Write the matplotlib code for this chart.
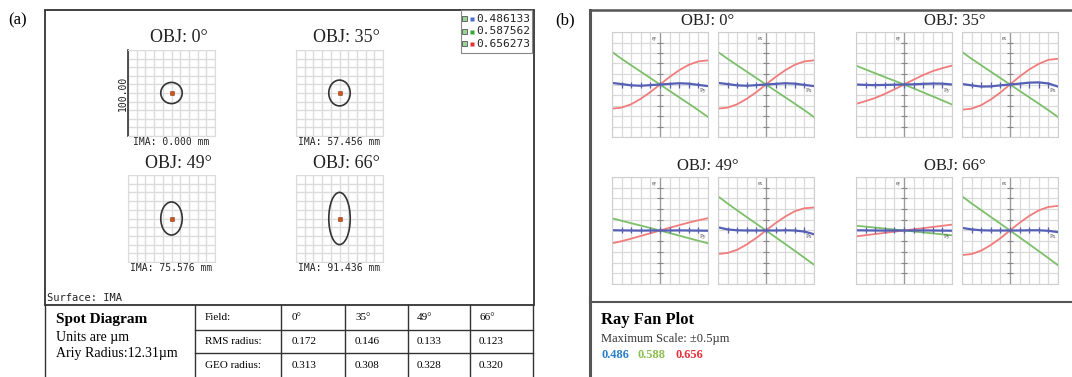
"""Spot diagram (a) and ray fan plot (b) panels, redrawn with matplotlib."""

import numpy as np
import matplotlib.pyplot as plt
from matplotlib.patches import Ellipse, Rectangle

W, H = 1072, 377
SERIF = 'Liberation Serif'
MONO = 'DejaVu Sans Mono'

# ---- data: spot diagram ----
fields = ['0°', '35°', '49°', '66°']
ima_height = ['0.000', '57.456', '75.576', '91.436']
airy_radius = 12.31
airy_semi_y = [12.31, 15.0, 19.0, 30.0]
rms_radius = ['0.172', '0.146', '0.133', '0.123']
geo_radius = ['0.313', '0.308', '0.328', '0.320']
wavelengths = ['0.486133', '0.587562', '0.656273']
wl_colors = ['#4a6fd0', '#3aa33a', '#e03030']

# ---- data: ray fans (um, pupil -1..1) ----
pupil = [-1.0, -0.8, -0.6, -0.4, -0.2, 0.0, 0.2, 0.4, 0.6, 0.8, 1.0]
ey_blue = [[0.015, 0.004, -0.008, -0.012, -0.006, 0, 0.006, 0.012, 0.008, -0.004, -0.015],
           [0.0, -0.004, -0.006, -0.004, -0.002, 0, 0.002, 0.006, 0.009, 0.008, 0.0],
           [0.002, 0.001, 0.0, -0.001, 0.0, 0, 0.0, 0.001, 0.0, -0.001, -0.002],
           [0.002, 0.001, 0.0, -0.001, 0.0, 0, 0.0, 0.001, 0.0, -0.001, -0.002]]
ey_green = [[0.31, 0.245, 0.183, 0.122, 0.061, 0, -0.061, -0.122, -0.183, -0.245, -0.31],
            [0.18, 0.143, 0.107, 0.071, 0.036, 0, -0.037, -0.075, -0.113, -0.152, -0.19],
            [0.115, 0.091, 0.068, 0.046, 0.023, 0, -0.024, -0.048, -0.072, -0.096, -0.12],
            [0.045, 0.036, 0.027, 0.018, 0.009, 0, -0.009, -0.018, -0.027, -0.036, -0.045]]
ey_red = [[-0.23, -0.22, -0.188, -0.136, -0.072, 0, 0.072, 0.136, 0.188, 0.22, 0.23],
          [-0.185, -0.158, -0.128, -0.09, -0.046, 0, 0.046, 0.09, 0.128, 0.156, 0.18],
          [-0.12, -0.1, -0.076, -0.051, -0.026, 0, 0.026, 0.05, 0.074, 0.096, 0.115],
          [-0.055, -0.044, -0.033, -0.022, -0.011, 0, 0.011, 0.022, 0.033, 0.044, 0.055]]
ex_blue = [[0.015, 0.004, -0.008, -0.012, -0.006, 0, 0.006, 0.012, 0.008, -0.004, -0.015],
           [0.005, -0.008, -0.02, -0.018, -0.008, 0, 0.008, 0.018, 0.02, 0.01, -0.02],
           [0.03, 0.01, 0.002, 0.0, 0.0, 0, 0.0, 0.002, 0.0, -0.01, -0.035],
           [0.025, 0.01, 0.002, 0.0, 0.0, 0, 0.0, 0.002, 0.002, -0.003, -0.015]]
ex_green = [[0.31, 0.245, 0.183, 0.122, 0.061, 0, -0.061, -0.122, -0.183, -0.245, -0.31],
            [0.31, 0.245, 0.183, 0.122, 0.061, 0, -0.061, -0.122, -0.183, -0.245, -0.31],
            [0.32, 0.252, 0.188, 0.125, 0.063, 0, -0.063, -0.126, -0.19, -0.255, -0.32],
            [0.32, 0.253, 0.19, 0.127, 0.064, 0, -0.064, -0.128, -0.193, -0.258, -0.325]]
ex_red = [[-0.23, -0.22, -0.188, -0.136, -0.072, 0, 0.072, 0.136, 0.188, 0.22, 0.23],
          [-0.24, -0.23, -0.197, -0.143, -0.076, 0, 0.076, 0.143, 0.197, 0.235, 0.245],
          [-0.22, -0.21, -0.18, -0.13, -0.069, 0, 0.069, 0.13, 0.18, 0.208, 0.215],
          [-0.23, -0.22, -0.188, -0.136, -0.072, 0, 0.072, 0.136, 0.188, 0.22, 0.23]]
fan_colors = ['#5560b5', '#7cc06a', '#f07c7c']

fig = plt.figure(figsize=(W / 100, H / 100), dpi=100)
fig.patch.set_facecolor('white')


def px_axes(x0, y0, x1, y1):
    return fig.add_axes([x0 / W, 1 - y1 / H, (x1 - x0) / W, (y1 - y0) / H])


# background axes in pixel units for frames and text
bg = fig.add_axes([0, 0, 1, 1])
bg.set_xlim(0, W)
bg.set_ylim(H, 0)
bg.axis('off')

# ---------------- panel (a) ----------------
bg.text(8, 20, '(a)', family=SERIF, fontsize=12, va='center')
bg.add_patch(Rectangle((45, 10), 489, 295, fill=False, ec='#333333', lw=1.3))
for x in [45, 195, 281, 345, 408, 470, 533]:
    bg.plot([x, x], [305, 377], color='#333333', lw=1.0)
for y in [330, 353]:
    bg.plot([195, 533], [y, y], color='#333333', lw=1.0)

# legend box
bg.add_patch(Rectangle((461, 10), 71, 43, fc='white', ec='#888888', lw=0.8))
for i, (wl, c) in enumerate(zip(wavelengths, wl_colors)):
    yy = 19 + i * 12.5
    bg.add_patch(Rectangle((462, yy - 3), 5, 5, fc='#9bd49b', ec='#555555', lw=0.6))
    bg.plot(472, yy, 's', ms=2.2, color=c, mec='none')
    bg.text(476, yy, wl, family=MONO, fontsize=8, va='center', color='#222222')

bg.text(47, 298, 'Surface: IMA', family=MONO, fontsize=7.5, va='center', color='#222222')
bg.text(56, 320, 'Spot Diagram', family=SERIF, fontsize=11, weight='bold', va='center')
bg.text(56, 338, 'Units are µm', family=SERIF, fontsize=10, va='center')
bg.text(56, 354, 'Ariy Radius:12.31µm', family=SERIF, fontsize=10, va='center')

col_x = [292, 355, 417, 479]
bg.text(205, 318, 'Field:', family=SERIF, fontsize=8, va='center')
bg.text(205, 342, 'RMS radius:', family=SERIF, fontsize=8, va='center')
bg.text(205, 366, 'GEO radius:', family=SERIF, fontsize=8, va='center')
for cx, f, r, g in zip(col_x, fields, rms_radius, geo_radius):
    bg.text(cx, 318, f, family=SERIF, fontsize=8, va='center')
    bg.text(cx, 342, r, family=SERIF, fontsize=8, va='center')
    bg.text(cx, 366, g, family=SERIF, fontsize=8, va='center')

spot_boxes = [(128, 50, 215, 136), (296, 50, 383, 136),
              (128, 175, 215, 262), (296, 175, 383, 262)]
for i, (x0, y0, x1, y1) in enumerate(spot_boxes):
    ax = px_axes(x0, y0, x1, y1)
    ax.patch.set_alpha(0)
    ax.set_xlim(-50, 50)
    ax.set_ylim(-50, 50)
    ax.set_xticks(np.linspace(-50, 50, 11))
    ax.set_yticks(np.linspace(-50, 50, 11))
    ax.grid(color='#dcdcdc', lw=1.0)
    ax.tick_params(length=0, labelbottom=False, labelleft=False)
    for s in ax.spines.values():
        s.set_color('#dcdcdc')
    ax.add_patch(Ellipse((0, 0), 2 * airy_radius, 2 * airy_semi_y[i],
                         fill=False, ec='#333333', lw=1.2, zorder=3))
    for c in wl_colors:
        ax.plot(0, 0, 's', ms=2.5, color=c, mec='none', zorder=4)
    ax.plot(0, 0, 's', ms=2.5, color='#c86414', mec='none', alpha=0.7, zorder=4)
    cx = (x0 + x1) / 2
    bg.text(cx + 7, y0 - 12, 'OBJ: ' + fields[i], family=SERIF, fontsize=13,
            ha='center', va='center', color='#222222')
    bg.text(cx, y1 + 6, 'IMA: ' + ima_height[i] + ' mm', family=MONO, fontsize=7,
            ha='center', va='center', color='#222222')
    if i == 0:
        ax.spines['left'].set_color('#333333')
        ax.spines['left'].set_linewidth(1.2)
        bg.text(x0 - 5, (y0 + y1) / 2, '100.00', family=MONO, fontsize=7,
                rotation=90, ha='center', va='center', color='#222222')

# ---------------- panel (b) ----------------
bg.text(555, 20, '(b)', family=SERIF, fontsize=12, va='center')
bg.plot([590, 590], [10, 377], color='#555555', lw=2.2)
bg.plot([590, W], [10, 10], color='#555555', lw=1.8)
bg.plot([590, W], [302, 302], color='#555555', lw=1.5)

bg.text(601, 320, 'Ray Fan Plot', family=SERIF, fontsize=12, weight='bold', va='center')
bg.text(601, 339, 'Maximum Scale: ±0.5µm', family=SERIF, fontsize=9, va='center', color='#333333')
for xx, txt, c in zip([601, 637, 675], ['0.486', '0.588', '0.656'],
                      ['#2a80c8', '#8cc152', '#e8323c']):
    bg.text(xx, 355, txt, family=SERIF, fontsize=9, weight='bold', va='center', color=c)

fan_left = [612, 856, 612, 856]
fan_top = [32, 32, 177, 177]
title_x = [708, 955, 708, 955]
grid_x = np.linspace(-1, 1, 11)
grid_y = np.linspace(-0.5, 0.5, 11)


def draw_fan(ax, blue, green, red, ylab, xlab):
    ax.set_xlim(-1, 1)
    ax.set_ylim(-0.5, 0.5)
    ax.set_xticks(grid_x)
    ax.set_yticks(grid_y)
    ax.grid(color='#dadada', lw=0.9)
    ax.tick_params(length=0, labelbottom=False, labelleft=False)
    for s in ax.spines.values():
        s.set_color('#cfcfcf')
    ax.axvline(0, color='#9a9a9a', lw=0.9)
    ax.plot(np.zeros_like(grid_y[1:-1]), grid_y[1:-1], '_', ms=4, color='#888888', mew=0.8)
    ax.plot(pupil, green, color=fan_colors[1], lw=1.3)
    ax.plot(pupil, red, color=fan_colors[2], lw=1.3)
    ax.plot(pupil, blue, color=fan_colors[0], lw=1.6)
    ax.plot(grid_x[1:-1], np.zeros_like(grid_x[1:-1]), '|', ms=4, color=fan_colors[0], mew=0.9)
    ax.text(-0.06, 0.46, ylab, fontsize=4, family=SERIF, ha='right', va='top', color='#555555')
    ax.text(0.9, -0.06, xlab, fontsize=4.5, family=SERIF, ha='center', va='center', color='#555555')


for i in range(4):
    x0, y0 = fan_left[i], fan_top[i]
    y1 = y0 + (105 if i < 2 else 107)
    axl = px_axes(x0, y0, x0 + 96, y1)
    draw_fan(axl, ey_blue[i], ey_green[i], ey_red[i], 'ey', 'Py')
    axr = px_axes(x0 + 106, y0, x0 + 202, y1)
    draw_fan(axr, ex_blue[i], ex_green[i], ex_red[i], 'ex', 'Px')
    bg.text(title_x[i], y0 - 11, 'OBJ: ' + fields[i], family=SERIF, fontsize=12,
            ha='center', va='center', color='#222222')

fig.savefig('out.png', dpi=100)
